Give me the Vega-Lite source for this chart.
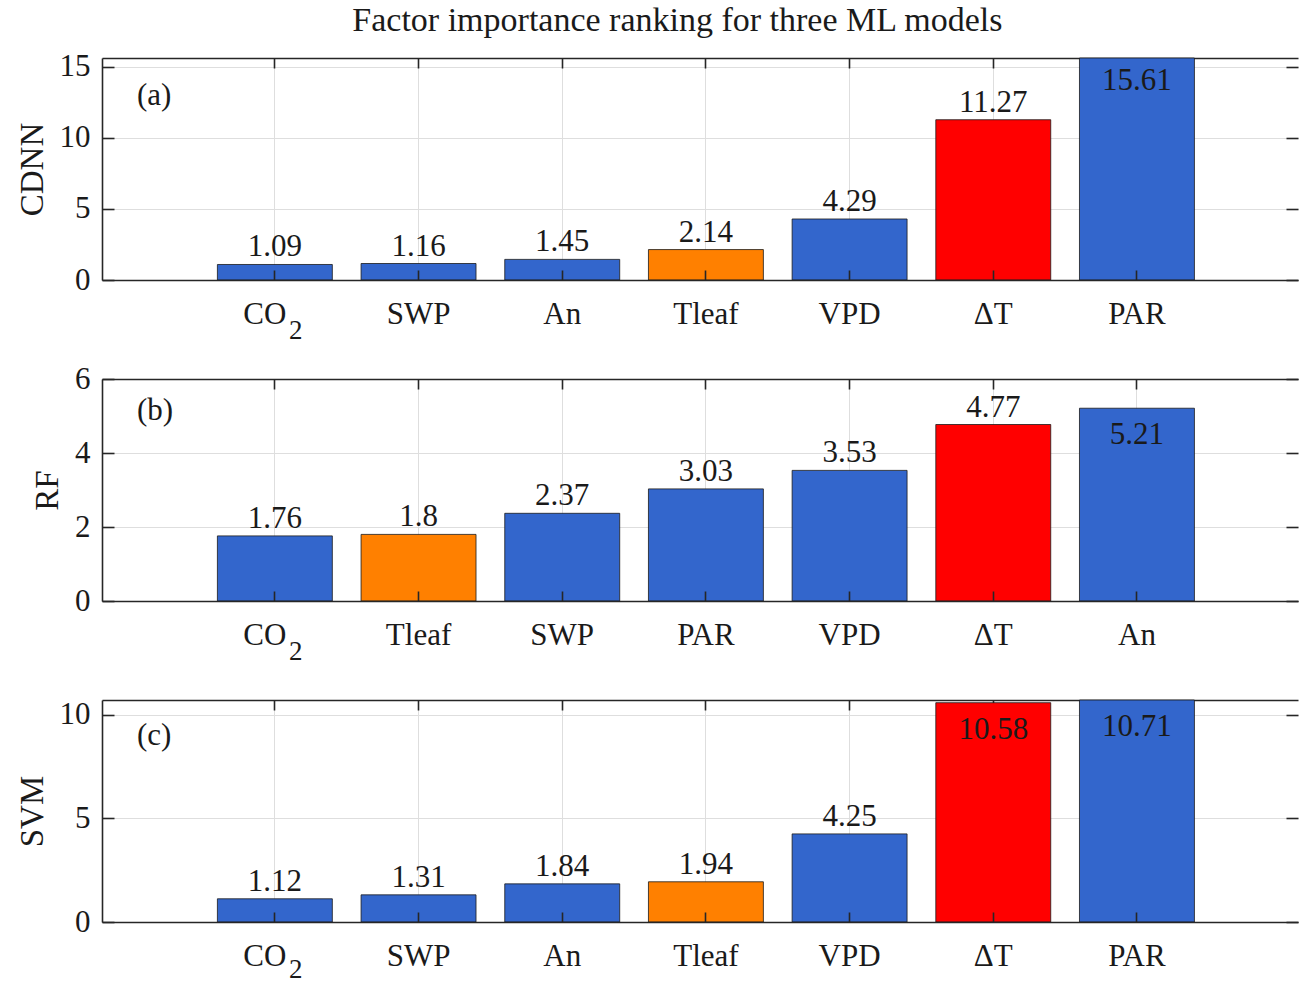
{
  "$schema": "https://vega.github.io/schema/vega-lite/v6.json",
  "background": "white",
  "padding": {"left": 16, "top": 3, "right": 0, "bottom": 0},
  "title": {
    "text": "Factor importance ranking for three ML models",
    "font": "Liberation Serif",
    "fontSize": 34,
    "fontWeight": "normal",
    "color": "#1a1a1a",
    "anchor": "middle",
    "offset": 13,
    "dx": 20
  },
  "datasets": {
    "importance": [
      {"model": "CDNN", "factor": "CO2", "v": 1.09},
      {"model": "CDNN", "factor": "SWP", "v": 1.16},
      {"model": "CDNN", "factor": "An", "v": 1.45},
      {"model": "CDNN", "factor": "Tleaf", "v": 2.14},
      {"model": "CDNN", "factor": "VPD", "v": 4.29},
      {"model": "CDNN", "factor": "ΔT", "v": 11.27},
      {"model": "CDNN", "factor": "PAR", "v": 15.61},
      {"model": "RF", "factor": "CO2", "v": 1.76},
      {"model": "RF", "factor": "Tleaf", "v": 1.8},
      {"model": "RF", "factor": "SWP", "v": 2.37},
      {"model": "RF", "factor": "PAR", "v": 3.03},
      {"model": "RF", "factor": "VPD", "v": 3.53},
      {"model": "RF", "factor": "ΔT", "v": 4.77},
      {"model": "RF", "factor": "An", "v": 5.21},
      {"model": "SVM", "factor": "CO2", "v": 1.12},
      {"model": "SVM", "factor": "SWP", "v": 1.31},
      {"model": "SVM", "factor": "An", "v": 1.84},
      {"model": "SVM", "factor": "Tleaf", "v": 1.94},
      {"model": "SVM", "factor": "VPD", "v": 4.25},
      {"model": "SVM", "factor": "ΔT", "v": 10.58},
      {"model": "SVM", "factor": "PAR", "v": 10.71}
    ]
  },
  "data": {"name": "importance"},
  "bounds": "flush",
  "spacing": 99,
  "vconcat": [
    {
      "width": 1196,
      "height": 222,
      "transform": [{"filter": "datum.model === 'CDNN'"}],
      "title": {"text": "(a)", "anchor": "start", "frame": "group", "dx": 35, "offset": -61, "fontSize": 31, "fontWeight": "normal", "font": "Liberation Serif", "color": "#1a1a1a"},
      "resolve": {"axis": {"x": "independent", "y": "independent"}},
      "layer": [
        {
          "mark": {"type": "bar", "stroke": "#1a1a1a", "strokeWidth": 0.8},
          "encoding": {
            "x": {"field": "factor", "type": "nominal",
              "scale": {"domain": ["CO2", "SWP", "An", "Tleaf", "VPD", "ΔT", "PAR"], "paddingInner": 0.2, "paddingOuter": 0.762, "align": 0.527},
              "axis": {"orient": "bottom", "title": null, "grid": false, "zindex": 1, "tickSize": -10, "labelPadding": 29, "labelExpr": "datum.value === 'CO2' ? 'CO' : datum.value", "labelOffset": {"condition": {"test": "datum.value === 'CO2'", "value": -10}, "value": 0}}},
            "y": {"field": "v", "type": "quantitative",
              "scale": {"domain": [0, 15.61], "nice": false, "zero": true},
              "axis": {"orient": "left", "title": "CDNN", "grid": false, "zindex": 1, "values": [0, 5, 10, 15], "tickSize": -12, "labelPadding": 24}},
            "color": {"field": "factor", "type": "nominal",
              "scale": {"domain": ["CO2", "SWP", "An", "Tleaf", "VPD", "ΔT", "PAR"], "range": ["#3366cc", "#3366cc", "#3366cc", "#ff8000", "#3366cc", "#ff0000", "#3366cc"]},
              "legend": null}
          }
        },
        {
          "transform": [{"filter": "datum.v < 15"}],
          "mark": {"type": "text", "baseline": "bottom", "dy": -1},
          "encoding": {
            "x": {"field": "factor", "type": "nominal",
              "axis": {"orient": "top", "title": null, "labels": false, "grid": true, "zindex": 0, "tickSize": -10}},
            "y": {"field": "v", "type": "quantitative",
              "axis": {"orient": "right", "title": null, "labels": false, "grid": true, "zindex": 0, "domain": false, "values": [0, 5, 10, 15], "tickSize": -12}},
            "text": {"field": "v", "type": "quantitative"}
          }
        },
        {
          "transform": [{"filter": "datum.v >= 15"}],
          "mark": {"type": "text", "baseline": "top", "dy": 8},
          "encoding": {
            "x": {"field": "factor", "type": "nominal", "axis": null},
            "y": {"field": "v", "type": "quantitative", "axis": null},
            "text": {"field": "v", "type": "quantitative"}
          }
        },
        {
          "transform": [{"filter": "datum.factor === 'CO2'"}],
          "mark": {"type": "text", "baseline": "middle", "dx": 21, "dy": 51, "fontSize": 27},
          "encoding": {
            "x": {"field": "factor", "type": "nominal", "axis": null},
            "y": {"datum": 0, "type": "quantitative", "axis": null},
            "text": {"value": "2"}
          }
        }
      ]
    },
    {
      "width": 1196,
      "height": 222,
      "transform": [{"filter": "datum.model === 'RF'"}],
      "title": {"text": "(b)", "anchor": "start", "frame": "group", "dx": 35, "offset": -64, "fontSize": 31, "fontWeight": "normal", "font": "Liberation Serif", "color": "#1a1a1a"},
      "resolve": {"axis": {"x": "independent", "y": "independent"}},
      "layer": [
        {
          "mark": {"type": "bar", "stroke": "#1a1a1a", "strokeWidth": 0.8},
          "encoding": {
            "x": {"field": "factor", "type": "nominal",
              "scale": {"domain": ["CO2", "Tleaf", "SWP", "PAR", "VPD", "ΔT", "An"], "paddingInner": 0.2, "paddingOuter": 0.762, "align": 0.527},
              "axis": {"orient": "bottom", "title": null, "grid": false, "zindex": 1, "tickSize": -10, "labelPadding": 29, "labelExpr": "datum.value === 'CO2' ? 'CO' : datum.value", "labelOffset": {"condition": {"test": "datum.value === 'CO2'", "value": -10}, "value": 0}}},
            "y": {"field": "v", "type": "quantitative",
              "scale": {"domain": [0, 6], "nice": false, "zero": true},
              "axis": {"orient": "left", "title": "RF", "grid": false, "zindex": 1, "values": [0, 2, 4, 6], "tickSize": -12, "labelPadding": 24}},
            "color": {"field": "factor", "type": "nominal",
              "scale": {"domain": ["CO2", "SWP", "An", "Tleaf", "VPD", "ΔT", "PAR"], "range": ["#3366cc", "#3366cc", "#3366cc", "#ff8000", "#3366cc", "#ff0000", "#3366cc"]},
              "legend": null}
          }
        },
        {
          "transform": [{"filter": "datum.v < 5"}],
          "mark": {"type": "text", "baseline": "bottom", "dy": -1},
          "encoding": {
            "x": {"field": "factor", "type": "nominal",
              "axis": {"orient": "top", "title": null, "labels": false, "grid": true, "zindex": 0, "tickSize": -10}},
            "y": {"field": "v", "type": "quantitative",
              "axis": {"orient": "right", "title": null, "labels": false, "grid": true, "zindex": 0, "domain": false, "values": [0, 2, 4, 6], "tickSize": -12}},
            "text": {"field": "v", "type": "quantitative"}
          }
        },
        {
          "transform": [{"filter": "datum.v >= 5"}],
          "mark": {"type": "text", "baseline": "top", "dy": 12},
          "encoding": {
            "x": {"field": "factor", "type": "nominal", "axis": null},
            "y": {"field": "v", "type": "quantitative", "axis": null},
            "text": {"field": "v", "type": "quantitative"}
          }
        },
        {
          "transform": [{"filter": "datum.factor === 'CO2'"}],
          "mark": {"type": "text", "baseline": "middle", "dx": 21, "dy": 51, "fontSize": 27},
          "encoding": {
            "x": {"field": "factor", "type": "nominal", "axis": null},
            "y": {"datum": 0, "type": "quantitative", "axis": null},
            "text": {"value": "2"}
          }
        }
      ]
    },
    {
      "width": 1196,
      "height": 222,
      "transform": [{"filter": "datum.model === 'SVM'"}],
      "title": {"text": "(c)", "anchor": "start", "frame": "group", "dx": 35, "offset": -53, "fontSize": 31, "fontWeight": "normal", "font": "Liberation Serif", "color": "#1a1a1a"},
      "resolve": {"axis": {"x": "independent", "y": "independent"}},
      "layer": [
        {
          "mark": {"type": "bar", "stroke": "#1a1a1a", "strokeWidth": 0.8},
          "encoding": {
            "x": {"field": "factor", "type": "nominal",
              "scale": {"domain": ["CO2", "SWP", "An", "Tleaf", "VPD", "ΔT", "PAR"], "paddingInner": 0.2, "paddingOuter": 0.762, "align": 0.527},
              "axis": {"orient": "bottom", "title": null, "grid": false, "zindex": 1, "tickSize": -10, "labelPadding": 29, "labelExpr": "datum.value === 'CO2' ? 'CO' : datum.value", "labelOffset": {"condition": {"test": "datum.value === 'CO2'", "value": -10}, "value": 0}}},
            "y": {"field": "v", "type": "quantitative",
              "scale": {"domain": [0, 10.71], "nice": false, "zero": true},
              "axis": {"orient": "left", "title": "SVM", "grid": false, "zindex": 1, "values": [0, 5, 10], "tickSize": -12, "labelPadding": 24}},
            "color": {"field": "factor", "type": "nominal",
              "scale": {"domain": ["CO2", "SWP", "An", "Tleaf", "VPD", "ΔT", "PAR"], "range": ["#3366cc", "#3366cc", "#3366cc", "#ff8000", "#3366cc", "#ff0000", "#3366cc"]},
              "legend": null}
          }
        },
        {
          "transform": [{"filter": "datum.v < 10"}],
          "mark": {"type": "text", "baseline": "bottom", "dy": -1},
          "encoding": {
            "x": {"field": "factor", "type": "nominal",
              "axis": {"orient": "top", "title": null, "labels": false, "grid": true, "zindex": 0, "tickSize": -10}},
            "y": {"field": "v", "type": "quantitative",
              "axis": {"orient": "right", "title": null, "labels": false, "grid": true, "zindex": 0, "domain": false, "values": [0, 5, 10], "tickSize": -12}},
            "text": {"field": "v", "type": "quantitative"}
          }
        },
        {
          "transform": [{"filter": "datum.v >= 10"}],
          "mark": {"type": "text", "baseline": "top", "dy": 12},
          "encoding": {
            "x": {"field": "factor", "type": "nominal", "axis": null},
            "y": {"field": "v", "type": "quantitative", "axis": null},
            "text": {"field": "v", "type": "quantitative"}
          }
        },
        {
          "transform": [{"filter": "datum.factor === 'CO2'"}],
          "mark": {"type": "text", "baseline": "middle", "dx": 21, "dy": 48, "fontSize": 27},
          "encoding": {
            "x": {"field": "factor", "type": "nominal", "axis": null},
            "y": {"datum": 0, "type": "quantitative", "axis": null},
            "text": {"value": "2"}
          }
        }
      ]
    }
  ],
  "config": {
    "font": "Liberation Serif",
    "view": {"stroke": null},
    "axis": {
      "domainColor": "#262626",
      "domainWidth": 1.6,
      "tickColor": "#262626",
      "tickWidth": 1.6,
      "gridColor": "#dedede",
      "gridWidth": 1,
      "gridOpacity": 1,
      "labelFont": "Liberation Serif",
      "labelFontSize": 31,
      "labelColor": "#1a1a1a",
      "titleFont": "Liberation Serif",
      "titleFontSize": 33,
      "titleFontWeight": "normal",
      "titleColor": "#1a1a1a",
      "titlePadding": 10
    },
    "axisX": {"labelAngle": 0, "labelBaseline": "top"},
    "text": {"font": "Liberation Serif", "fontSize": 31, "color": "#1a1a1a"}
  }
}
